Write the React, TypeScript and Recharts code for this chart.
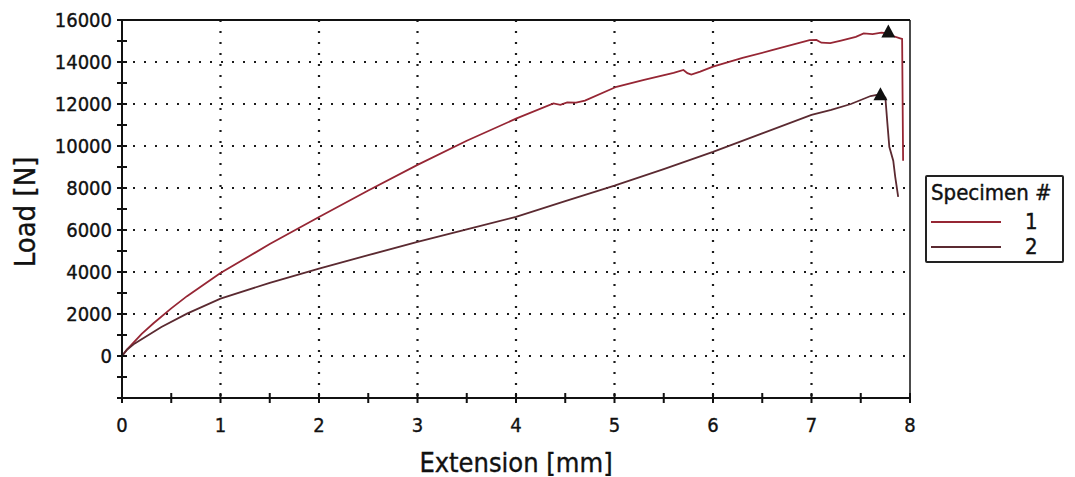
import React from 'react'
import {
  CartesianGrid,
  ComposedChart,
  Label,
  Legend,
  Line,
  ReferenceLine,
  Scatter,
  XAxis,
  YAxis,
} from 'recharts'

const FONT = "'DejaVu Sans Condensed', 'DejaVu Sans', sans-serif"
const INK = '#111'

// Specimen 1: extension (mm) vs load (N).
const ext1 = [
  0, 0.05, 0.2, 0.32, 0.5, 0.66, 1.0, 1.5, 2.0, 2.5, 3.0, 3.5, 4.0, 4.38, 4.45, 4.52,
  4.61, 4.7, 5.02, 5.3, 5.6, 5.7, 5.74, 5.78, 5.87, 6.0, 6.3, 6.6, 6.98, 7.05, 7.1,
  7.19, 7.3, 7.45, 7.53, 7.62, 7.71, 7.76, 7.82, 7.9, 7.92, 7.93,
]
const load1 = [
  0, 300, 1050, 1560, 2270, 2850, 3950, 5330, 6620, 7880, 9100, 10250, 11300, 12030,
  11960, 12080, 12070, 12160, 12820, 13150, 13480, 13620, 13470, 13400, 13540, 13780,
  14200, 14560, 15040, 15050, 14920, 14900, 15020, 15200, 15360, 15330, 15400, 15380,
  15250, 15130, 15100, 9300,
]

// Specimen 2
const ext2 = [
  0, 0.05, 0.13, 0.4, 0.66, 1.0, 1.5, 2.0, 2.5, 3.0, 3.5, 4.0, 4.5, 5.0, 5.5, 6.0, 6.5,
  7.0, 7.2, 7.4, 7.6, 7.7, 7.75, 7.77, 7.79, 7.83, 7.85, 7.88,
]
const load2 = [
  0, 300, 600, 1380, 2020, 2735, 3480, 4165, 4800, 5440, 6030, 6630, 7380, 8110, 8900,
  9720, 10600, 11480, 11720, 12000, 12380, 12470, 12300, 11100, 9960, 9300, 8530, 7580,
]

// Peak load markers (triangles)
const peakExt = [7.78, 7.7]
const peakLoad = [15450, 12470]

const specimens = ['1', '2']
const colors = ['#962634', '#5b2a31']

const xTicks = [0, 0.5, 1, 1.5, 2, 2.5, 3, 3.5, 4, 4.5, 5, 5.5, 6, 6.5, 7, 7.5, 8]
const yTicks = [
  -2000, -1000, 0, 1000, 2000, 3000, 4000, 5000, 6000, 7000, 8000, 9000, 10000, 11000,
  12000, 13000, 14000, 15000, 16000,
]
const xGrid = [1, 2, 3, 4, 5, 6, 7]
const yGrid = [0, 2000, 4000, 6000, 8000, 10000, 12000, 14000]

const series = [
  ext1.map((x, i) => ({ x, y: load1[i] })),
  ext2.map((x, i) => ({ x, y: load2[i] })),
]
const peaks = peakExt.map((x, i) => ({ x, y: peakLoad[i] }))

// a hairline outline makes the text read as heavy as the scanned original
const textInk = { fill: INK, stroke: INK, strokeWidth: 0.35 }

function XTick({ x, y, payload }: any) {
  const v = payload.value
  return (
    <g>
      <line x1={x} x2={x} y1={y - 5} y2={y + 5} stroke={INK} strokeWidth={2} />
      {Number.isInteger(v) && (
        <text x={x} y={y + 27} textAnchor="middle" dominantBaseline="central" fontSize={20} {...textInk}>
          {v}
        </text>
      )}
    </g>
  )
}

function YTick({ x, y, payload }: any) {
  const v = payload.value
  return (
    <g>
      <line x1={x - 5} x2={x + 5} y1={y} y2={y} stroke={INK} strokeWidth={2} />
      {v >= 0 && v % 2000 === 0 && (
        <text x={x - 10} y={y} textAnchor="end" dominantBaseline="central" fontSize={20} {...textInk}>
          {v}
        </text>
      )}
    </g>
  )
}

function XTitle({ viewBox }: any) {
  const { x, y, width } = viewBox
  return (
    <text x={x + width / 2} y={y + 64} textAnchor="middle" dominantBaseline="central" fontSize={27} {...textInk}>
      Extension [mm]
    </text>
  )
}

function YTitle({ viewBox }: any) {
  const { x, y, height } = viewBox
  const cx = x + 25
  const cy = y + height / 2 + 3
  return (
    <text
      x={cx}
      y={cy}
      transform={`rotate(-90, ${cx}, ${cy})`}
      textAnchor="middle"
      dominantBaseline="central"
      fontSize={29}
      {...textInk}
    >
      Load [N]
    </text>
  )
}

function Triangle({ cx, cy }: any) {
  return <polygon points={`${cx},${cy - 7} ${cx - 7},${cy + 6} ${cx + 7},${cy + 6}`} fill={INK} />
}

function SpecimenLegend({ payload }: any) {
  const items = (payload ?? []).filter((p: any) => specimens.includes(p.value))
  return (
    <div
      style={{
        boxSizing: 'border-box',
        width: 139,
        height: 88,
        border: '2px solid #222',
        borderRadius: 2,
        background: '#fff',
        fontFamily: FONT,
        color: INK,
        padding: '3px 0 0 4px',
        WebkitTextStroke: '0.4px #111',
      }}
    >
      <div style={{ fontSize: 22, lineHeight: '26px' }}>Specimen #</div>
      <div style={{ marginTop: 3 }}>
        {items.map((e: any) => (
          <div key={e.value} style={{ display: 'flex', alignItems: 'center', height: 25 }}>
            <svg width={70} height={4} style={{ display: 'block' }}>
              <line x1={0} x2={70} y1={2} y2={2} stroke={e.color} strokeWidth={2.2} />
            </svg>
            <span style={{ marginLeft: 24, fontSize: 22, lineHeight: '25px' }}>{e.value}</span>
          </div>
        ))}
      </div>
    </div>
  )
}

export default function App() {
  return (
    <div
      style={{
        position: 'absolute',
        left: 0,
        top: 0,
        width: 1075,
        height: 477,
        background: '#fff',
        fontFamily: FONT,
      }}
    >
      <ComposedChart width={1075} height={477} margin={{ top: 20, right: 165, bottom: 0, left: 0 }}>
        <CartesianGrid
          horizontalValues={yGrid}
          verticalValues={xGrid}
          stroke="#1a1a1a"
          strokeWidth={2.2}
          strokeDasharray="2 9"
        />
        <XAxis
          type="number"
          dataKey="x"
          domain={[0, 8]}
          ticks={xTicks}
          interval={0}
          height={79}
          tickSize={0}
          tickMargin={0}
          tickLine={false}
          axisLine={{ stroke: INK, strokeWidth: 2 }}
          tick={<XTick />}
        >
          <Label content={<XTitle />} />
        </XAxis>
        <YAxis
          type="number"
          domain={[-2000, 16000]}
          ticks={yTicks}
          interval={0}
          width={122}
          tickSize={0}
          tickMargin={0}
          tickLine={false}
          axisLine={{ stroke: INK, strokeWidth: 2 }}
          tick={<YTick />}
        >
          <Label content={<YTitle />} />
        </YAxis>
        <ReferenceLine y={16000} stroke={INK} strokeWidth={2} />
        <ReferenceLine x={8} stroke={INK} strokeWidth={1.5} />
        {series.map((d, i) => (
          <Line
            key={specimens[i]}
            data={d}
            dataKey="y"
            name={specimens[i]}
            type="linear"
            stroke={colors[i]}
            strokeWidth={1.8}
            dot={false}
            activeDot={false}
            isAnimationActive={false}
          />
        ))}
        <Scatter
          data={peaks}
          dataKey="y"
          legendType="none"
          shape={<Triangle />}
          isAnimationActive={false}
        />
        <Legend
          layout="vertical"
          align="center"
          verticalAlign="middle"
          content={<SpecimenLegend />}
          wrapperStyle={{ left: 925, top: 175, width: 139, height: 88 }}
        />
      </ComposedChart>
    </div>
  )
}
